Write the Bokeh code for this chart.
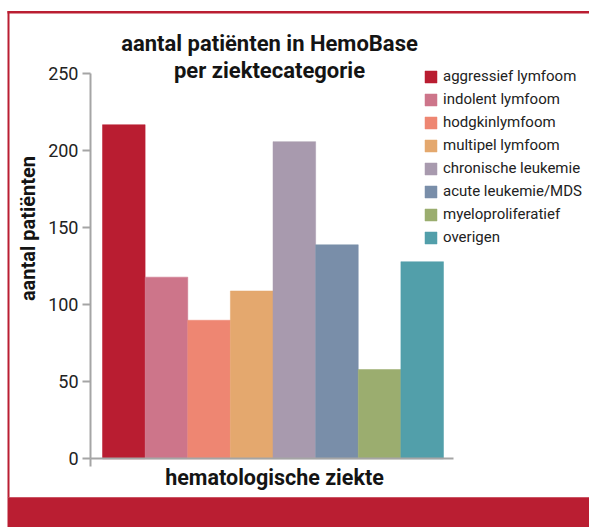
import math
from bokeh.plotting import figure
from bokeh.models import (ColumnDataSource, FixedTicker, Legend, LegendItem, Label,
                          BoxAnnotation, Range1d)
from bokeh.embed import file_html
from bokeh.resources import INLINE

# ---- data ----
categories = ["aggressief lymfoom", "indolent lymfoom", "hodgkinlymfoom", "multipel lymfoom",
              "chronische leukemie", "acute leukemie/MDS", "myeloproliferatief", "overigen"]
counts = [217, 118, 90, 109, 206, 139, 58, 128]
colors = ["#b91d31", "#cd758a", "#ee8672", "#e4a86e", "#a89aae", "#798ea9", "#9bad6f", "#529faa"]
y_ticks = [0, 50, 100, 150, 200, 250]
title_lines = ["aantal patiënten in HemoBase", "per ziektecategorie"]
x_title = "hematologische ziekte"
y_title = "aantal patiënten"

FONT = "Roboto"
RED = "#ba1e32"
AXIS_GREY = "#a5a5a5"
TXT = "#141414"

W, H = 589, 527
# mapping between picture pixels and data units (frame covers the whole canvas)
PX_PER_X = 42.625
X_AT_0 = -2.893
PX_PER_Y = 1.5396
Y0_PX = 458.3


def dx(px):
    return X_AT_0 + px / PX_PER_X


def dy(py):
    return (Y0_PX - py) / PX_PER_Y


p = figure(width=W, height=H, output_backend="svg", toolbar_location=None,
           x_range=Range1d(dx(0), dx(W)), y_range=Range1d(dy(H), dy(0)),
           min_border=0, min_border_left=0, min_border_right=0, min_border_top=0, min_border_bottom=0)
p.outline_line_color = None
p.grid.visible = False
p.background_fill_color = "white"
p.border_fill_color = "white"

src = ColumnDataSource(dict(x=list(range(len(categories))), top=counts, color=colors, cat=categories))
r = p.vbar(x="x", top="top", width=1.0, fill_color="color", line_color="color", line_width=0.5, source=src)

# y axis
ya = p.yaxis[0]
ya.fixed_location = dx(90)
ya.ticker = FixedTicker(ticks=y_ticks)
ya.bounds = (0, 250)
ya.axis_line_color = AXIS_GREY
ya.axis_line_width = 2
ya.major_tick_line_color = AXIS_GREY
ya.major_tick_line_width = 2
ya.major_tick_out = 8
ya.major_tick_in = 0
ya.minor_tick_line_color = None
ya.major_label_text_font = FONT
ya.major_label_text_font_size = "18px"
ya.major_label_text_color = "#222222"
ya.major_label_standoff = 4

# x axis
XL, XR = dx(90), dx(453)
xa = p.xaxis[0]
xa.fixed_location = 0
xa.ticker = FixedTicker(ticks=[XL])
xa.bounds = (XL, XR)
xa.major_label_overrides = {XL: ""}
xa.major_label_text_font_size = "1px"
xa.major_label_standoff = 0
xa.axis_line_color = AXIS_GREY
xa.axis_line_width = 2
xa.major_tick_line_color = AXIS_GREY
xa.major_tick_line_width = 2
xa.major_tick_out = 8
xa.major_tick_in = 0
xa.minor_tick_line_color = None

# titles
def add_text(x, y, text, size, angle=0.0):
    p.add_layout(Label(x=x, y=y, text=text, angle=angle, text_align="center", text_baseline="alphabetic",
                       text_font=FONT, text_font_style="bold", text_font_size=size, text_color=TXT))


add_text(dx(269), dy(43), title_lines[0], "22px")
add_text(dx(269), dy(70), title_lines[1], "22px")
add_text(dx(274), dy(476.5), x_title, "21.5px")
add_text(dx(27.5), dy(228), y_title, "20px", angle=math.pi / 2)

# legend
items = [LegendItem(label=c, renderers=[r], index=i) for i, c in enumerate(categories)]
legend = Legend(items=items, location=(423, 281), padding=0, spacing=5, margin=0,
                glyph_width=15, glyph_height=15, label_standoff=5, label_height=15,
                label_text_font=FONT, label_text_font_size="15px", label_text_color="#222222",
                label_text_line_height=1.175,
                border_line_color=None, background_fill_alpha=0)
p.add_layout(legend, "center")

# decorative red frame around the chart
def add_box(x0, x1, y0, y1):
    p.add_layout(BoxAnnotation(left=dx(x0), right=dx(x1), top=dy(y0), bottom=dy(y1),
                               fill_color=RED, fill_alpha=1, line_color=None))


add_box(7, 9, 10.5, 497)
add_box(7, W + 2, 10.5, 13)
add_box(7, W + 2, 496.7, H + 2)

open("out.html", "w").write(file_html(p, INLINE))
